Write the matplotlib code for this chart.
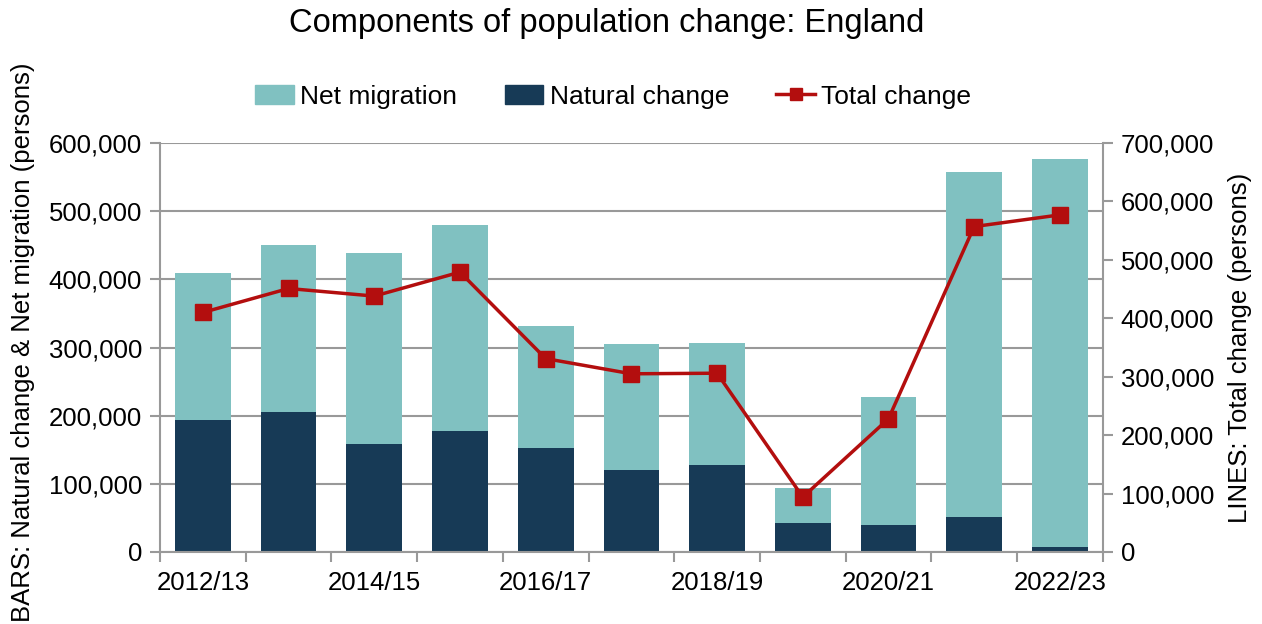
import numpy as np
import matplotlib
matplotlib.use('Agg')
import matplotlib.pyplot as plt
from matplotlib.ticker import FuncFormatter
from matplotlib.lines import Line2D
from matplotlib.patches import Patch

plt.rcParams['font.family'] = ['Liberation Sans', 'DejaVu Sans']

years = ['2012/13', '2013/14', '2014/15', '2015/16', '2016/17', '2017/18',
         '2018/19', '2019/20', '2020/21', '2021/22', '2022/23']
natural_change = [194000, 206000, 159000, 178000, 152000, 120000,
                  128000, 43000, 40000, 51000, 7000]
net_migration = [216000, 245000, 279000, 301000, 179000, 185000,
                 178000, 51000, 188000, 506000, 570000]
total_change = [410000, 451000, 438000, 479000, 331000, 305000,
                306000, 94000, 228000, 557000, 577000]

teal = '#80C1C1'
navy = '#173A56'
red = '#B30E0E'
grey = '#999999'

fig = plt.figure(figsize=(12.62, 6.24), dpi=100)
ax = fig.add_axes([0.1268, 0.1154, 0.747, 0.6554])
ax2 = ax.twinx()

x = np.arange(len(years))
ax.bar(x, natural_change, width=0.65, color=navy, zorder=2)
ax.bar(x, net_migration, width=0.65, bottom=natural_change, color=teal, zorder=2)

ax.set_ylim(0, 600000)
ax.set_yticks(np.arange(0, 600001, 100000))
ax.set_xlim(-0.5, len(years) - 0.5)
ax.yaxis.grid(True, color=grey, linewidth=1.5, zorder=0)
ax.set_axisbelow(True)

fmt = FuncFormatter(lambda v, p: f'{int(v):,}')
ax.yaxis.set_major_formatter(fmt)

ax2.plot(x, total_change, color=red, linewidth=2.5, marker='s', markersize=11, zorder=5)
ax2.set_ylim(0, 700000)
ax2.set_yticks(np.arange(0, 700001, 100000))
ax2.yaxis.set_major_formatter(fmt)

# x ticks: marks at category boundaries, labels every other year
ax.set_xticks(np.arange(-0.5, len(years), 1.0), minor=True)
ax.set_xticks(x[::2])
ax.set_xticklabels(years[::2])
ax.tick_params(axis='x', which='major', length=0, pad=14, labelsize=18.5)
ax.tick_params(axis='x', which='minor', length=7, width=1.5, color=grey)
ax.tick_params(axis='y', length=7, width=1.5, color=grey, labelsize=18.5, pad=6)
ax2.tick_params(axis='y', length=7, width=1.5, color=grey, labelsize=18.5, pad=6)

for a in (ax, ax2):
    for s in a.spines.values():
        s.set_visible(False)
    a.spines['left'].set_visible(a is ax)
    a.spines['right'].set_visible(a is ax2)
    a.spines['bottom'].set_visible(a is ax)
    for s in ('left', 'right', 'bottom'):
        a.spines[s].set_color(grey)
        a.spines[s].set_linewidth(1.5)

ax.set_ylabel('BARS: Natural change & Net migration (persons)', fontsize=18.5)
ax.yaxis.set_label_coords(-0.1326, 0.512)
ax2.set_ylabel('LINES: Total change (persons)', fontsize=18.5, labelpad=10)

fig.text(0.481, 0.962, 'Components of population change: England', fontsize=23.5,
         ha='center', va='center')

handles = [Patch(color=teal), Patch(color=navy),
           Line2D([], [], color=red, linewidth=2.5, marker='s', markersize=9)]
fig.legend(handles, ['Net migration', 'Natural change', 'Total change'],
           loc='center', bbox_to_anchor=(0.486, 0.845), ncol=3, frameon=False,
           prop={'size': 19}, handlelength=1.45, handleheight=0.75,
           handletextpad=0.25, columnspacing=1.8)

fig.savefig('out.png', dpi=100)
